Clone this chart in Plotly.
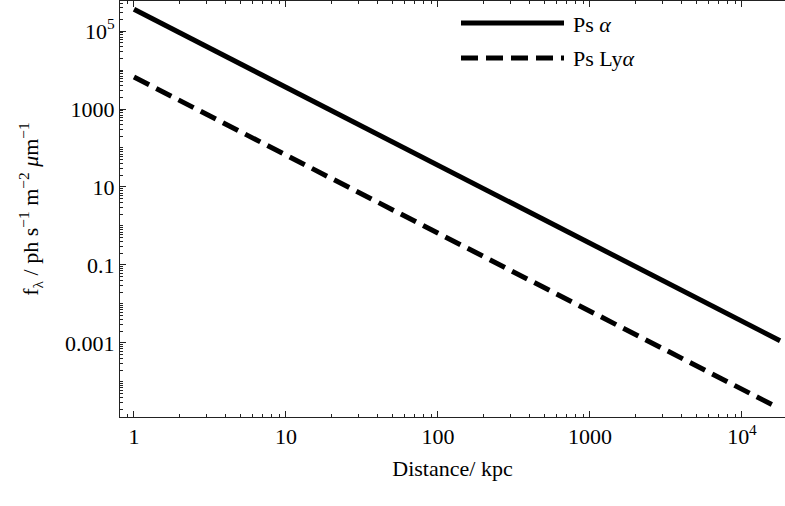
import plotly.graph_objects as go

# Data (log-log, ~1/d^2 falloff)
distance_alpha = [1, 10, 100, 1000, 10000, 17800]
ps_alpha = [3.6e5, 3.6e3, 36, 0.36, 3.6e-3, 1.14e-3]
distance_lyalpha = [1, 10, 100, 1000, 10000, 15800]
ps_lyalpha = [6600, 66, 0.66, 6.6e-3, 6.6e-5, 2.6e-5]
series_names = ["Ps <i>α</i>", "Ps Ly<i>α</i>"]

x_tickvals = [1, 10, 100, 1000, 10000]
x_ticktext = ["1", "10", "100", "1000", "10<sup>4</sup>"]
y_tickvals = [1e5, 1e3, 10, 0.1, 1e-3]
y_ticktext = ["10<sup>5</sup>", "1000", "10", "0.1", "0.001"]

FONT = "Liberation Serif, Times New Roman, serif"
FS = 22
W, H = 785, 506
ML, MR, MT, MB = 120, 0, 1, 89

fig = go.Figure()
fig.add_trace(go.Scatter(x=distance_alpha, y=ps_alpha, mode="lines",
                         line=dict(color="black", width=5),
                         name=series_names[0], showlegend=False))
fig.add_trace(go.Scatter(x=distance_lyalpha, y=ps_lyalpha, mode="lines",
                         line=dict(color="black", width=5, dash="17px,8px"),
                         name=series_names[1], showlegend=False))

axis_common = dict(
    showline=True, linecolor="#222", linewidth=1,
    ticks="inside", ticklen=6, tickcolor="#222", tickwidth=1,
    showgrid=False, zeroline=False,
    tickfont=dict(family=FONT, size=FS, color="black"),
)

fig.update_xaxes(type="log", range=[-0.092, 4.283],
                 tickvals=x_tickvals, ticktext=x_ticktext,
                 mirror="ticks",
                 minor=dict(ticks="inside", ticklen=3, tickcolor="#222", dtick="D1", showgrid=False),
                 title=dict(text="Distance/ kpc", font=dict(family=FONT, size=FS, color="black"), standoff=12),
                 **axis_common)
fig.update_yaxes(type="log", range=[-4.90, 5.77],
                 tickvals=y_tickvals, ticktext=y_ticktext,
                 minor=dict(ticks="inside", ticklen=3, tickcolor="#222", dtick="D1", showgrid=False),
                 title=dict(text="f<sub>λ</sub> / ph s<sup>−1</sup> m<sup>−2</sup> <i>μ</i>m<sup>−1</sup>",
                            font=dict(family=FONT, size=FS, color="black"), standoff=20),
                 **axis_common)

# Legend drawn in paper coordinates
pw, ph = W - ML - MR, H - MT - MB
def px(xpix):
    return (xpix - ML) / pw
def py(ypix):
    return 1 - (ypix - MT) / ph

legend_items = [
    (series_names[0], dict(color="black", width=5), 23),
    (series_names[1], dict(color="black", width=5, dash="17px,8px"), 58),
]
for name, ln, ypix in legend_items:
    fig.add_shape(type="line", xref="paper", yref="paper",
                  x0=px(461), x1=px(564), y0=py(ypix), y1=py(ypix), line=ln)
    fig.add_annotation(xref="paper", yref="paper", x=px(571), y=py(ypix + 1),
                       text=name, showarrow=False, xanchor="left", yanchor="middle",
                       font=dict(family=FONT, size=FS, color="black"))

fig.update_layout(width=W, height=H, margin=dict(l=ML, r=MR, t=MT, b=MB),
                  paper_bgcolor="white", plot_bgcolor="white", showlegend=False)
fig.write_html("out.html")
